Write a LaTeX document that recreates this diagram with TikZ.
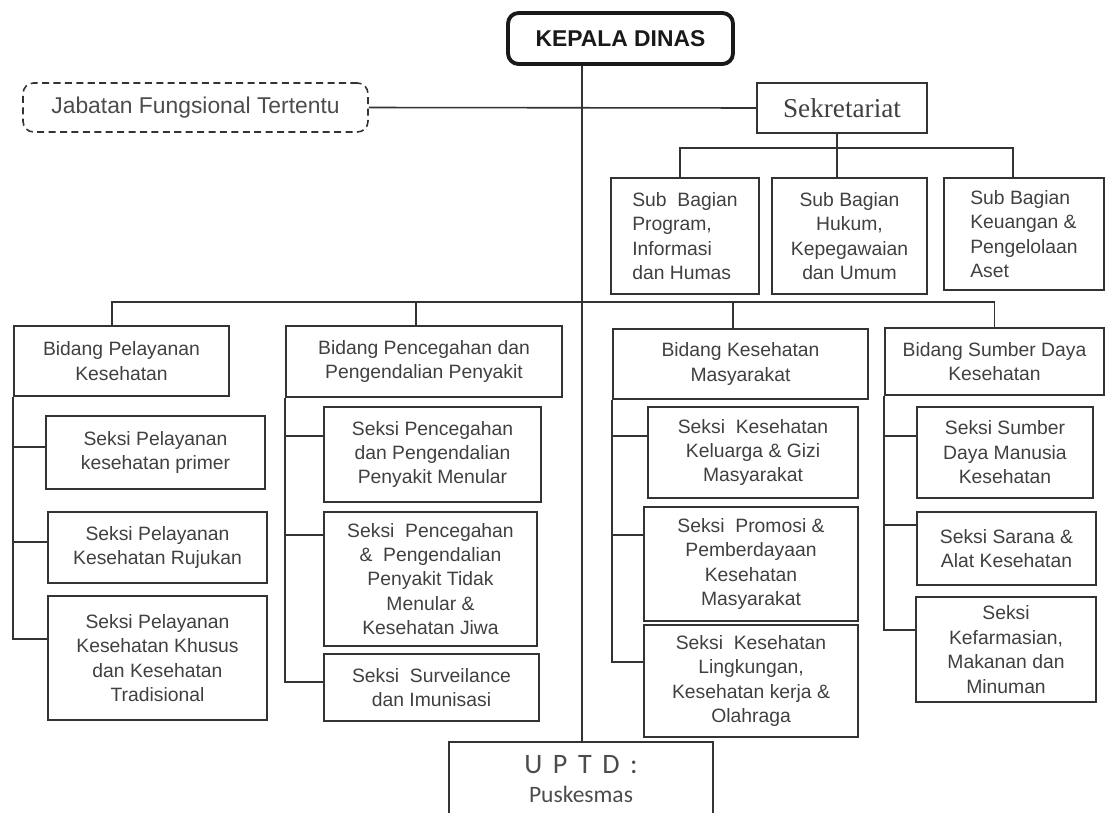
\documentclass[tikz,border=0pt]{standalone}
\usepackage{fontspec}
\setmainfont{Liberation Sans}
\newfontfamily\sekfont{Liberation Serif}
\newfontfamily\uptdfont{Carlito}
\usetikzlibrary{positioning}

\begin{document}
\begin{tikzpicture}[x=0.02cm,y=-0.02cm,
  box/.style={draw=black!80,line width=0.9pt,text=black!75,align=center,inner sep=0pt,
    font=\fontsize{11}{13.9}\selectfont},
  link/.style={draw=black!80,line width=0.9pt}]
\useasboundingbox (0,0) rectangle (1105,812);

% top level
\node[box,rounded corners=6pt,line width=2.2pt,draw=black!90,text=black!90,
  minimum width=4.5cm,minimum height=1.02cm,font=\bfseries\fontsize{13}{15}\selectfont]
  (kepala) at (620.5,38.5) {KEPALA DINAS};
\node[box,rounded corners=6pt,dashed,dash pattern=on 4pt off 2.5pt,text=black!70,
  minimum width=6.9cm,minimum height=0.98cm,font=\fontsize{13}{15}\selectfont]
  (jabatan) at (195.5,107.5) {Jabatan Fungsional Tertentu};
\node[box,minimum width=3.4cm,minimum height=1cm,font=\sekfont\fontsize{15.5}{18}\selectfont]
  (sek) at (842,108) {Sekretariat};

% sub bagian
\node[box,align=left,minimum width=2.96cm,minimum height=2.32cm] (sub1) at (685,236)
  {Sub\ \ Bagian\\Program,\\Informasi\\dan Humas};
\node[box,minimum width=3.1cm,minimum height=2.32cm] (sub2) at (849.5,236)
  {Sub Bagian\\Hukum,\\Kepegawaian\\dan Umum};
\node[box,align=left,minimum width=3.2cm,minimum height=2.24cm] (sub3) at (1024,234)
  {Sub Bagian\\Keuangan \&\\Pengelolaan\\Aset};

% bidang
\node[box,minimum width=4.3cm,minimum height=1.4cm] (bid1) at (121.5,361)
  {Bidang Pelayanan\\Kesehatan};
\node[box,minimum width=5.52cm,minimum height=1.42cm] (bid2) at (424,361.5)
  {Bidang Pencegahan dan\\Pengendalian Penyakit};
\node[box,minimum width=5.1cm,minimum height=1.4cm] (bid3) at (740.5,364)
  {Bidang Kesehatan\\Masyarakat};
\node[box,minimum width=4.38cm,minimum height=1.34cm] (bid4) at (994.5,361.5)
  {Bidang Sumber Daya\\Kesehatan};

% seksi
\node[box,minimum width=4.38cm,minimum height=1.46cm] (s11) at (155.5,452.5)
  {Seksi Pelayanan\\kesehatan primer};
\node[box,minimum width=4.38cm,minimum height=1.42cm] (s12) at (157.5,547.5)
  {Seksi Pelayanan\\Kesehatan Rujukan};
\node[box,minimum width=4.38cm,minimum height=2.48cm] (s13) at (157.5,658)
  {Seksi Pelayanan\\Kesehatan Khusus\\dan Kesehatan\\Tradisional};

\node[box,minimum width=4.34cm,minimum height=1.9cm] (s21) at (432.5,454.5)
  {Seksi Pencegahan\\dan Pengendalian\\Penyakit Menular};
\node[box,minimum width=4.26cm,minimum height=2.68cm] (s22) at (430.5,579)
  {Seksi\ \ Pencegahan\\\&\ \ Pengendalian\\Penyakit Tidak\\Menular \&\\Kesehatan Jiwa};
\node[box,minimum width=4.3cm,minimum height=1.34cm] (s23) at (431.5,687.5)
  {Seksi\ \ Surveilance\\dan Imunisasi};

\node[box,minimum width=4.2cm,minimum height=1.82cm] (s31) at (753,452.5)
  {Seksi\ \ Kesehatan\\Keluarga \& Gizi\\Masyarakat};
\node[box,minimum width=4.28cm,minimum height=2.28cm] (s32) at (751,564)
  {Seksi\ \ Promosi \&\\Pemberdayaan\\Kesehatan\\Masyarakat};
\node[box,minimum width=4.28cm,minimum height=2.24cm] (s33) at (751,681)
  {Seksi\ \ Kesehatan\\Lingkungan,\\Kesehatan kerja \&\\Olahraga};

\node[box,minimum width=3.52cm,minimum height=1.82cm] (s41) at (1005,452.5)
  {Seksi Sumber\\Daya Manusia\\Kesehatan};
\node[box,minimum width=3.58cm,minimum height=1.46cm] (s42) at (1006.5,548.5)
  {Seksi Sarana \&\\Alat Kesehatan};
\node[box,minimum width=3.6cm,minimum height=2.1cm] (s43) at (1006,649.5)
  {Seksi\\Kefarmasian,\\Makanan dan\\Minuman};

% uptd
\node[box,text=black!70,minimum width=5.28cm,minimum height=1.48cm,
  font=\uptdfont\fontsize{16}{16}\selectfont] (uptd) at (581,779)
  {\spaceskip=6pt U P T D :\\
   \uptdfont\fontsize{13.4}{16}\selectfont Puskesmas};

% connectors
\coordinate (trunk) at ([xshift=-0.77cm]kepala.south);
\draw[link] (trunk) -- (trunk |- uptd.north);
\draw[link] (jabatan.east) -- (sek.west);

\coordinate (sekdrop) at ([xshift=-0.1cm]sek.south);
\coordinate (sekbar) at (837,148);
\draw[link] (sekdrop) -- (sekdrop |- sub2.north);
\draw[link] ([xshift=-0.1cm]sub1.north) |- (sekbar) -| ([xshift=-0.22cm]sub3.north);

\coordinate (bus) at (582,302);
\draw[link] ([xshift=-0.19cm]bid1.north) |- (bus) -| (bid4.north);
\draw[link] ([xshift=-0.16cm]bid2.north) |- (bus);
\draw[link] ([xshift=-0.15cm]bid3.north) |- (bus);

\foreach \s/\dy in {s11/0.11,s12/0.11,s13/0.38}
  \draw[link] (bid1.south west) |- ([yshift=\dy cm]\s.west);
\foreach \s/\dy in {s21/0.37,s22/0.88,s23/0.11}
  \draw[link] (bid2.south west) |- ([yshift=\dy cm]\s.west);
\foreach \s/\dy in {s31/0.33,s32/0.58,s33/0.38}
  \draw[link] (bid3.south west) |- ([yshift=\dy cm]\s.west);
\foreach \s/\dy in {s41/0.33,s42/0.47,s43/0.39}
  \draw[link] (bid4.south west) |- ([yshift=\dy cm]\s.west);
\end{tikzpicture}
\end{document}
